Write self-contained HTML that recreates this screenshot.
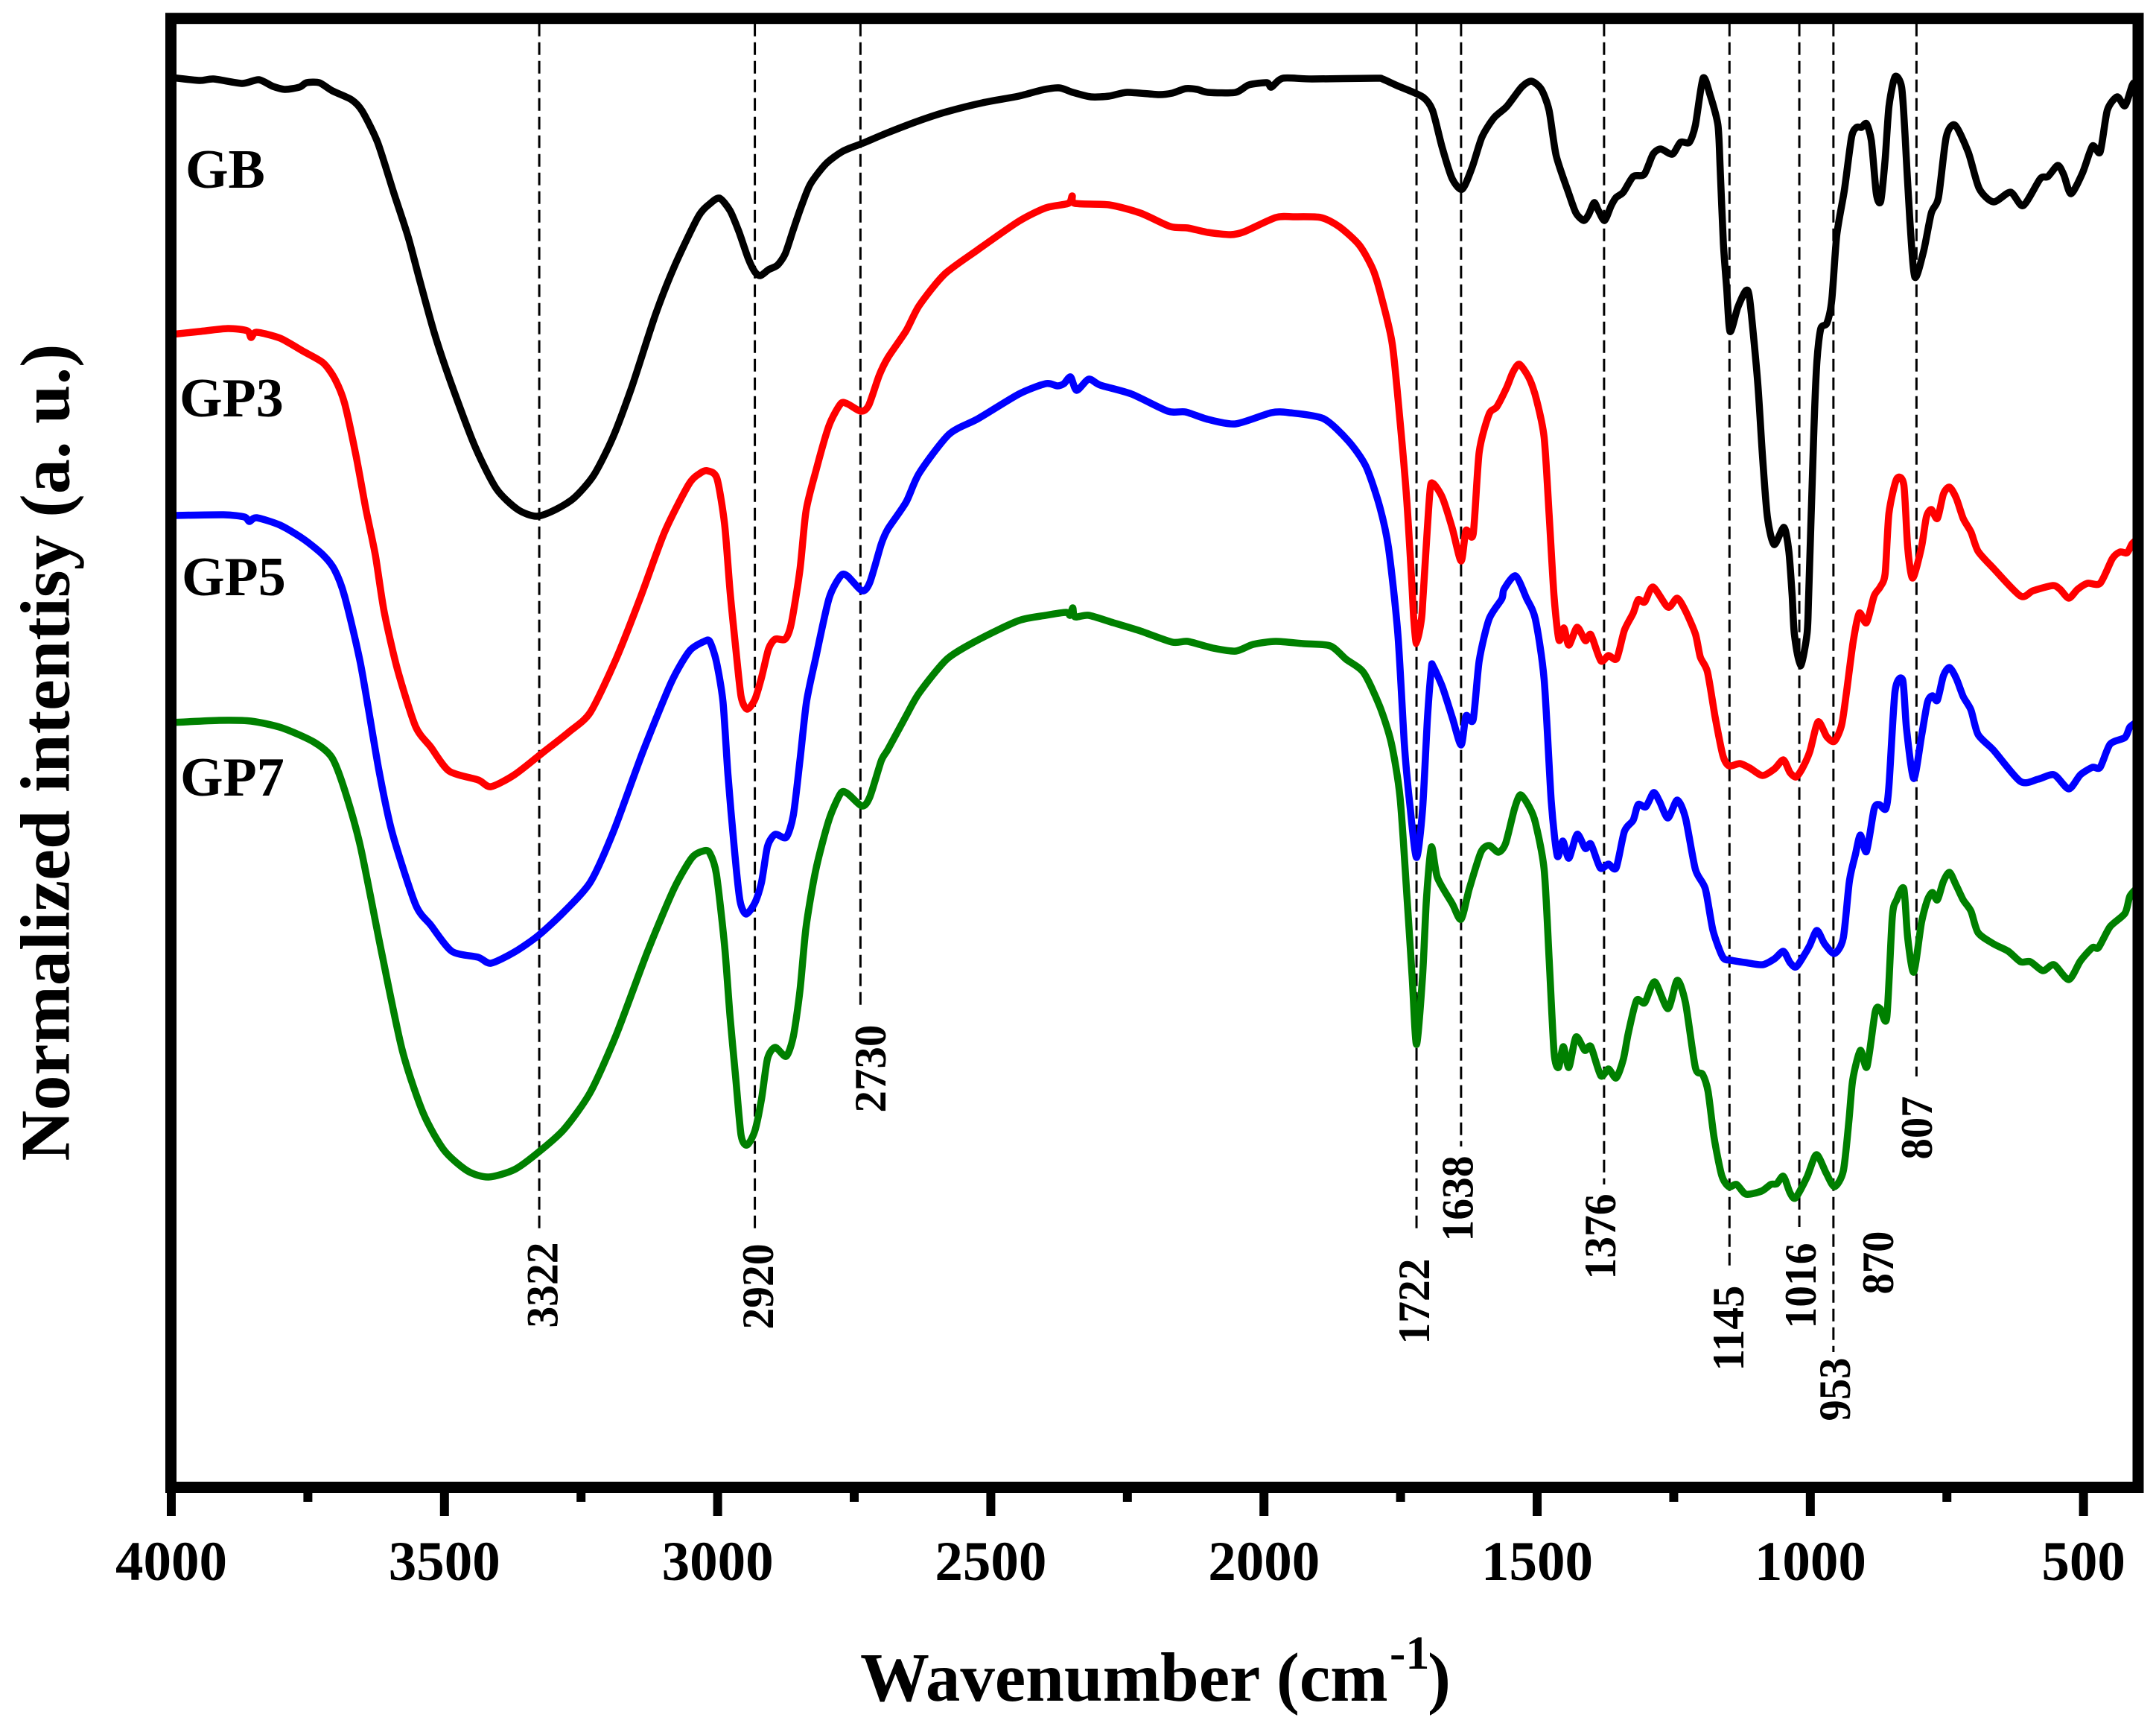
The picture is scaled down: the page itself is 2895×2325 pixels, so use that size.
<!DOCTYPE html>
<html lang="en">
<head>
<meta charset="utf-8">
<title>FTIR spectra of GB, GP3, GP5 and GP7</title>
<style>
html,body{margin:0;padding:0;background:#fff;}
svg{display:block;}
text{font-family:"Liberation Serif",serif;font-weight:bold;fill:#000;}
</style>
</head>
<body>
<svg id="chart" xmlns="http://www.w3.org/2000/svg" width="2895" height="2325" viewBox="0 0 2895 2325">
<rect x="0" y="0" width="2895" height="2325" fill="#fff"/>
<g id="markers"></g>
<g id="series"></g>
<g id="ticks"></g>
<g id="tickLabels"></g>
<rect x="229.5" y="24.7" width="2641.5" height="1971.8" fill="none" stroke="#000" stroke-width="15"/>

<text x="249" y="252" font-size="74">GB</text>
<text x="241" y="559" font-size="74">GP3</text>
<text x="244" y="799" font-size="74">GP5</text>
<text x="242" y="1068" font-size="74">GP7</text>

<text transform="translate(748.5,1725) rotate(-90)" text-anchor="middle" font-size="60" textLength="115" lengthAdjust="spacingAndGlyphs">3322</text>
<text transform="translate(1038,1727) rotate(-90)" text-anchor="middle" font-size="60" textLength="115" lengthAdjust="spacingAndGlyphs">2920</text>
<text transform="translate(1189,1434.6) rotate(-90)" text-anchor="middle" font-size="60" textLength="118" lengthAdjust="spacingAndGlyphs">2730</text>
<text transform="translate(1919,1747) rotate(-90)" text-anchor="middle" font-size="60" textLength="115" lengthAdjust="spacingAndGlyphs">1722</text>
<text transform="translate(1977.5,1609) rotate(-90)" text-anchor="middle" font-size="60" textLength="115" lengthAdjust="spacingAndGlyphs">1638</text>
<text transform="translate(2169,1660) rotate(-90)" text-anchor="middle" font-size="60" textLength="115" lengthAdjust="spacingAndGlyphs">1376</text>
<text transform="translate(2341,1783) rotate(-90)" text-anchor="middle" font-size="60" textLength="115" lengthAdjust="spacingAndGlyphs">1145</text>
<text transform="translate(2438,1726) rotate(-90)" text-anchor="middle" font-size="60" textLength="115" lengthAdjust="spacingAndGlyphs">1016</text>
<text transform="translate(2484,1865) rotate(-90)" text-anchor="middle" font-size="60" textLength="85" lengthAdjust="spacingAndGlyphs">953</text>
<text transform="translate(2542,1695) rotate(-90)" text-anchor="middle" font-size="60" textLength="85" lengthAdjust="spacingAndGlyphs">870</text>
<text transform="translate(2594,1514) rotate(-90)" text-anchor="middle" font-size="60" textLength="85" lengthAdjust="spacingAndGlyphs">807</text>

<text transform="translate(92.6,1010) rotate(-90)" text-anchor="middle" font-size="94" textLength="1097">Normalized intentisy (a. u.)</text>
<text x="1155" y="2283" font-size="93">Wavenumber (cm<tspan x="1866" y="2240" font-size="64">-1</tspan><tspan x="1917" y="2283" font-size="93">)</tspan></text>

<script>
// Axis domains
const waveMax = 4000;
const waveMin = 400;
const intensityMin = 3.5;
const intensityMax = 1975.3;

// Wavenumbers below were read with a slightly compressed scale; this factor corrects them
const waveCalibration = 3600 / 3576;

// Tick values
const majorTicks = [4000, 3500, 3000, 2500, 2000, 1500, 1000, 500];
const minorTicks = [3750, 3250, 2750, 2250, 1750, 1250, 750];
const tickLabels = ["4000", "3500", "3000", "2500", "2000", "1500", "1000", "500"];

// Peak marker lines: wavenumber as drawn, and the intensity where each dashed line ends
const markerWaves = [3331, 2939, 2747, 1736, 1655, 1395, 1167, 1040, 978, 827];
const markerEnds = [348, 344, 649, 347, 461, 410, 298, 353, 185, 555];
const markerNames = ["3322", "2920", "2730", "1722", "1638", "1376", "1145", "1016", "953", "807"];

// GB spectrum
const gbWave = [4000,3949,3923,3871,3841,3815,3793,3767,3754,3731,3707,3672,3653,3625,3595,3569,3547,3521,3491,3448,3409,3370,3336,3301,3267,3232,3197,3163,3120,3085,3042,3020,3003,2984,2968,2951,2939,2929,2914,2898,2884,2869,2853,2838,2810,2779,2742,2697,2644,2590,2525,2459,2418,2385,2361,2328,2295,2262,2205,2180,2156,2135,2115,2065,2041,2008,2000,1979,1926,1811,1798,1771,1725,1707,1689,1671,1653,1635,1617,1595,1572,1545,1527,1509,1495,1482,1459,1446,1432,1423,1413,1405,1394,1382,1373,1360,1342,1322,1306,1292,1271,1256,1240,1229,1215,1202,1188,1184,1178,1172,1166,1152,1137,1130,1116,1107,1098,1086,1068,1059,1053,1049,1038,1026,1023,1014,1008,1001,990,981,972,958,945,936,927,918,909,900,892,884,877,866,854,848,839,830,814,800,787,773,757,733,713,687,656,633,602,588,570,559,546,525,507,493,480,462,448,435,430];
const gbValues = [1896,1892,1894,1888,1893,1884,1880,1883,1889,1889,1878,1866,1851,1809,1740,1681,1620,1551,1485,1401,1344,1316,1307,1316,1332,1362,1413,1480,1577,1643,1709,1727,1734,1717,1689,1653,1635,1630,1638,1644,1659,1692,1726,1753,1780,1797,1808,1822,1837,1850,1862,1871,1879,1882,1876,1870,1871,1876,1873,1875,1881,1880,1876,1876,1886,1889,1883,1895,1894,1895,1894,1885,1870,1852,1801,1760,1746,1775,1816,1842,1857,1883,1891,1880,1852,1791,1740,1714,1704,1712,1728,1717,1704,1724,1735,1742,1763,1766,1793,1800,1793,1809,1809,1832,1895,1872,1832,1776,1673,1612,1555,1587,1610,1597,1490,1388,1306,1269,1292,1260,1200,1149,1106,1149,1200,1413,1515,1559,1566,1597,1684,1745,1816,1829,1829,1834,1811,1740,1730,1786,1857,1897,1883,1821,1704,1628,1663,1714,1735,1816,1832,1796,1747,1729,1742,1724,1760,1763,1778,1765,1740,1768,1804,1796,1852,1870,1858,1885,1890];

// GP3 spectrum
const gp3Wave = [4000,3949,3897,3862,3855,3845,3802,3759,3724,3703,3685,3664,3646,3629,3613,3589,3556,3528,3495,3442,3419,3376,3324,3276,3238,3191,3146,3103,3059,3038,3025,3008,2994,2984,2974,2964,2953,2939,2927,2914,2902,2884,2873,2857,2846,2828,2804,2783,2771,2746,2732,2713,2697,2664,2640,2594,2533,2459,2410,2369,2362,2357,2295,2238,2184,2152,2115,2074,2049,1992,1959,1910,1877,1840,1815,1799,1780,1766,1754,1745,1741,1736,1727,1724,1712,1706,1689,1671,1655,1646,1633,1622,1604,1590,1572,1561,1549,1531,1518,1504,1495,1486,1477,1468,1459,1444,1429,1419,1401,1387,1372,1358,1342,1333,1321,1306,1279,1262,1247,1229,1220,1207,1193,1179,1168,1148,1130,1107,1085,1069,1057,1046,1035,1021,1006,990,976,963,954,942,931,918,904,893,884,877,863,850,843,834,818,809,800,789,778,767,755,742,728,715,687,638,615,579,566,550,534,516,493,471,457,444,435,426];
const gp3Values = [1551,1555,1559,1556,1547,1554,1546,1528,1513,1492,1459,1388,1316,1255,1179,1102,1025,997,965,953,944,960,990,1018,1044,1116,1200,1286,1350,1365,1368,1358,1296,1205,1132,1065,1048,1061,1090,1129,1142,1142,1162,1235,1314,1368,1429,1458,1458,1448,1456,1496,1520,1556,1590,1632,1665,1703,1721,1727,1737,1727,1725,1714,1696,1694,1688,1685,1689,1708,1709,1708,1696,1671,1638,1599,1538,1435,1332,1223,1170,1136,1169,1200,1337,1351,1332,1291,1247,1288,1283,1393,1444,1454,1480,1500,1511,1492,1464,1413,1311,1200,1141,1157,1134,1158,1140,1148,1113,1120,1116,1154,1177,1195,1192,1212,1185,1197,1180,1149,1118,1098,1037,986,972,975,969,959,968,980,963,957,968,991,1031,1011,1005,1027,1072,1139,1177,1164,1200,1212,1230,1311,1357,1349,1265,1224,1265,1306,1316,1304,1337,1346,1332,1304,1286,1260,1237,1200,1207,1214,1209,1197,1209,1217,1217,1250,1259,1258,1270,1276];

// GP5 spectrum
const gp5Wave = [4000,3905,3867,3858,3845,3802,3759,3724,3703,3685,3656,3623,3599,3556,3528,3490,3442,3419,3376,3333,3286,3238,3196,3143,3091,3058,3031,3021,3009,2997,2988,2976,2966,2955,2939,2927,2916,2902,2882,2869,2857,2845,2828,2804,2783,2771,2744,2730,2709,2697,2664,2640,2586,2533,2459,2410,2389,2377,2365,2354,2332,2311,2254,2188,2156,2115,2065,2000,1967,1905,1860,1828,1803,1787,1770,1758,1748,1736,1725,1716,1709,1706,1689,1671,1655,1646,1633,1622,1604,1581,1577,1556,1536,1520,1504,1491,1480,1470,1459,1444,1429,1419,1402,1387,1373,1358,1342,1333,1319,1305,1294,1279,1262,1247,1229,1211,1197,1179,1164,1139,1107,1085,1069,1057,1046,1031,1021,1008,994,976,960,949,938,929,918,904,895,883,877,866,852,845,832,818,807,798,789,778,767,755,742,728,715,687,638,606,577,550,529,507,493,475,448,439,426];
const gp5Values = [1308,1309,1306,1300,1305,1295,1276,1255,1235,1200,1109,968,884,786,758,723,715,707,722,744,776,816,884,990,1084,1126,1139,1139,1112,1058,961,858,791,773,788,815,864,880,876,906,979,1058,1118,1197,1227,1227,1207,1218,1270,1290,1326,1365,1417,1438,1471,1485,1482,1485,1494,1476,1491,1483,1471,1448,1447,1437,1431,1446,1446,1438,1408,1374,1320,1265,1150,1000,919,849,914,1037,1103,1106,1078,1037,1000,1039,1034,1113,1169,1196,1209,1227,1197,1169,1088,924,851,871,848,880,861,867,835,840,835,884,899,920,917,936,924,902,926,902,833,807,751,715,711,708,705,713,723,708,702,718,731,751,733,720,741,817,853,879,857,914,920,914,945,1072,1087,1021,955,1011,1057,1066,1060,1093,1104,1090,1065,1047,1014,993,951,954,960,941,960,970,970,1001,1010,1024,1031];

// GP7 spectrum
const gp7Wave = [4000,3913,3855,3799,3741,3708,3685,3656,3618,3580,3542,3504,3461,3423,3376,3333,3286,3238,3191,3134,3086,3053,3031,3021,3009,2994,2984,2974,2964,2953,2939,2927,2916,2902,2882,2869,2857,2846,2828,2804,2783,2771,2744,2730,2709,2697,2664,2640,2590,2533,2459,2410,2373,2366,2361,2357,2332,2287,2238,2180,2152,2106,2065,2033,1992,1942,1893,1864,1832,1803,1782,1766,1753,1744,1736,1725,1718,1709,1698,1671,1655,1640,1619,1604,1587,1574,1558,1547,1531,1520,1504,1495,1486,1478,1469,1459,1446,1430,1419,1401,1387,1373,1360,1351,1336,1321,1303,1279,1262,1247,1229,1216,1206,1195,1181,1168,1154,1137,1109,1092,1081,1069,1057,1047,1026,1009,991,976,960,950,943,929,917,902,893,881,871,863,850,843,832,818,807,798,789,778,767,755,742,728,715,687,660,638,620,597,577,550,529,507,496,475,448,439,426];
const gp7Values = [1030,1033,1032,1023,1004,983,940,863,723,590,506,456,428,420,430,453,484,534,611,723,807,849,858,855,827,730,634,555,476,463,482,524,579,594,582,609,670,755,833,900,935,935,918,930,979,994,1039,1070,1115,1141,1167,1174,1178,1174,1184,1172,1174,1164,1153,1138,1139,1130,1126,1135,1139,1136,1133,1115,1097,1052,1003,930,792,690,598,690,792,863,822,787,766,807,856,865,856,868,914,933,917,896,833,715,588,567,595,567,608,590,595,556,565,553,578,613,657,654,682,646,684,654,567,558,535,473,422,407,410,397,401,410,411,421,399,392,420,450,425,407,428,494,550,590,568,642,646,634,769,792,807,741,695,761,792,802,792,817,829,812,792,777,748,733,723,709,709,697,705,685,710,728,728,756,774,797,808];

const plotLeft = 229.5, plotRight = 2871, plotTop = 24.7, plotBottom = 1996.5;
const svgNS = "http://www.w3.org/2000/svg";

function xScale(w) {
  return plotLeft + 0.5 + (waveMax - w) / (waveMax - waveMin) * (plotRight - plotLeft - 0.5);
}
function calibrated(w) {
  return waveMax - (waveMax - w) * waveCalibration;
}
function yScale(v) {
  return plotBottom - (v - intensityMin) / (intensityMax - intensityMin) * (plotBottom - plotTop);
}
function smoothPath(waves, values) {
  const pts = waves.map(function (w, i) { return [xScale(calibrated(w)), yScale(values[i])]; });
  let d = "M" + pts[0][0].toFixed(1) + " " + pts[0][1].toFixed(1);
  for (let i = 0; i < pts.length - 1; i++) {
    const p0 = pts[Math.max(i - 1, 0)], p1 = pts[i], p2 = pts[i + 1], p3 = pts[Math.min(i + 2, pts.length - 1)];
    const k = 1 / 8;
    d += "C" + (p1[0] + (p2[0] - p0[0]) * k).toFixed(1) + " " + (p1[1] + (p2[1] - p0[1]) * k).toFixed(1) +
      " " + (p2[0] - (p3[0] - p1[0]) * k).toFixed(1) + " " + (p2[1] - (p3[1] - p1[1]) * k).toFixed(1) +
      " " + p2[0].toFixed(1) + " " + p2[1].toFixed(1);
  }
  return d;
}

// Dashed peak markers
const markerGroup = document.getElementById("markers");
markerWaves.forEach(function (w, i) {
  const line = document.createElementNS(svgNS, "line");
  
  
  line.setAttribute("x1", xScale(calibrated(w)));
  line.setAttribute("x2", xScale(calibrated(w)));
  line.setAttribute("y1", plotTop + 7);
  line.setAttribute("y2", yScale(markerEnds[i]));
  line.setAttribute("stroke", "#000");
  line.setAttribute("stroke-width", "3");
  line.setAttribute("stroke-dasharray", "17 8");
  const title = document.createElementNS(svgNS, "title");
  title.textContent = markerNames[i];
  line.appendChild(title);
  markerGroup.appendChild(line);
});

// Spectra
const seriesGroup = document.getElementById("series");
function drawSpectrum(waves, values, color) {
  const path = document.createElementNS(svgNS, "path");
  path.setAttribute("d", smoothPath(waves, values));
  path.setAttribute("fill", "none");
  path.setAttribute("stroke", color);
  path.setAttribute("stroke-width", "9.5");
  path.setAttribute("stroke-linejoin", "round");
  path.setAttribute("stroke-linecap", "butt");
  seriesGroup.appendChild(path);
  return path;
}
const gbLine = drawSpectrum(gbWave, gbValues, "#000000");


const gp3Line = drawSpectrum(gp3Wave, gp3Values, "#ff0000");


const gp5Line = drawSpectrum(gp5Wave, gp5Values, "#0000ff");


const gp7Line = drawSpectrum(gp7Wave, gp7Values, "#008000");



// Ticks
const tickGroup = document.getElementById("ticks");
const labelGroup = document.getElementById("tickLabels");
majorTicks.forEach(function (w, i) {
  const tick = document.createElementNS(svgNS, "rect");
  
  
  tick.setAttribute("x", xScale(w) - 6);
  tick.setAttribute("y", plotBottom);
  tick.setAttribute("width", 12);
  tick.setAttribute("height", 38.5);
  tick.setAttribute("fill", "#000");
  tickGroup.appendChild(tick);
  const label = document.createElementNS(svgNS, "text");
  
  
  label.setAttribute("x", xScale(w));
  label.setAttribute("y", 2121);
  label.setAttribute("text-anchor", "middle");
  label.setAttribute("font-size", "75");
  label.textContent = tickLabels[i];
  labelGroup.appendChild(label);
});
minorTicks.forEach(function (w) {
  const tick = document.createElementNS(svgNS, "rect");
  
  
  tick.setAttribute("x", xScale(w) - 6);
  tick.setAttribute("y", plotBottom);
  tick.setAttribute("width", 12);
  tick.setAttribute("height", 19.5);
  tick.setAttribute("fill", "#000");
  tickGroup.appendChild(tick);
});
</script>
</svg>
</body>
</html>
